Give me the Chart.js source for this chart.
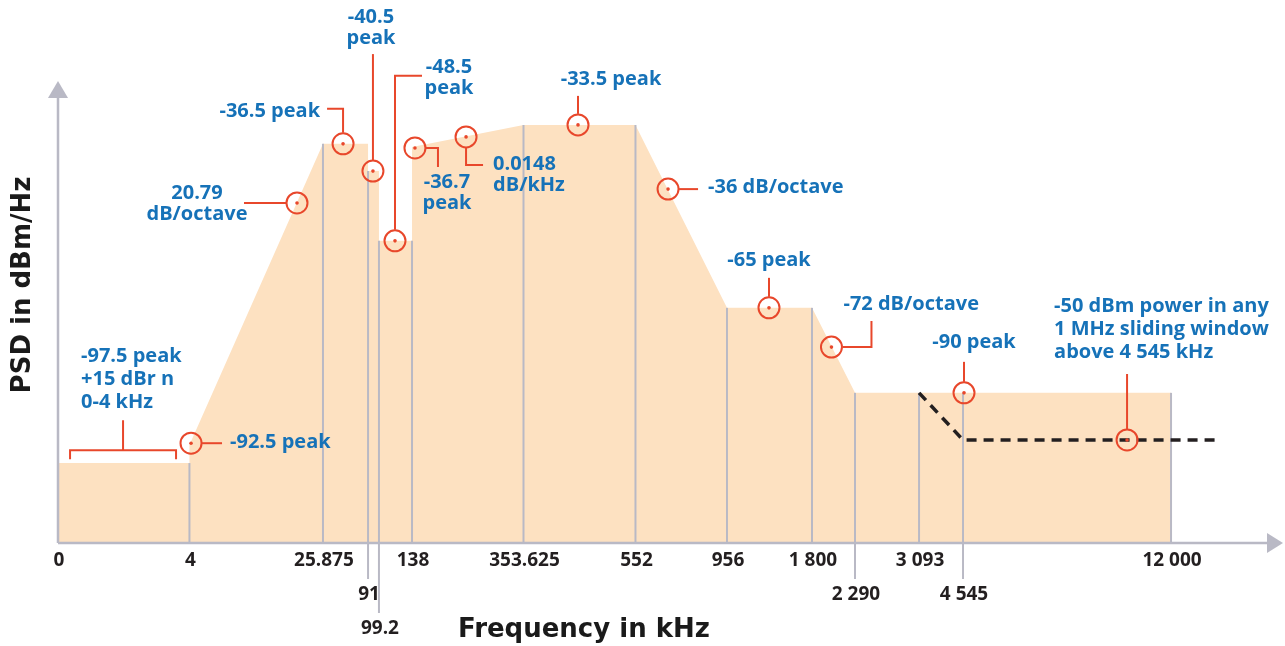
<!DOCTYPE html>
<html>
<head>
<meta charset="utf-8">
<script src="https://cdn.jsdelivr.net/npm/chart.js@4"></script>
<style>
  body { margin: 0; background: #fff; }
  canvas { display: block; }
</style>
</head>
<body>
<canvas id="psdChart" width="1285" height="646"></canvas>
<script>
// frequency break points (kHz) and where each one sits on the drawn axis (0-100, axis is not to scale)
const freqs = [0, 4, 25.875, 91, 99.2, 138, 353.625, 552, 956, 1800, 2290, 3093, 4545, 12000];
const freqLabels = ["0", "4", "25.875", "91", "99.2", "138", "353.625", "552", "956", "1 800", "2 290", "3 093", "4 545", "12 000"];
const axisPos = [0, 10.73, 21.63, 25.31, 26.2, 28.9, 38.0, 47.14, 54.61, 61.55, 65.06, 70.29, 73.88, 90.86];
const labelRow = [0, 0, 0, 1, 2, 0, 0, 0, 0, 0, 1, 0, 1, 0];

// PSD mask outline, relative level on a schematic y axis (0-100)
const maskFreq = [0, 4, 4, 25.875, 91, 91, 99.2, 99.2, 138, 138, 353.625, 552, 956, 1800, 2290, 12000];
const maskLevel = [17.3, 17.3, 21.2, 86.4, 86.4, 80.5, 80.5, 65.4, 65.4, 85.7, 90.5, 90.5, 50.9, 50.9, 32.5, 32.5];

// -50 dBm / 1 MHz dashed limit
const limitFreq = [3093, 4545];
const limitLevel = [32.5, 22.3, 22.3];
const limitEndPos = 94.6;

const FILL = "#fde1c1";
const GREY = "#b9b9c5";
const RED = "#e8472b";
const BLUE = "#1672b8";
const INK = "#231f20";

function posOf(f) {
  return axisPos[freqs.indexOf(f)];
}

// lowest mask level touching a break point (so the divider stops at the lower edge)
function levelAt(f) {
  const hits = [];
  maskFreq.forEach((m, i) => { if (m === f) hits.push(maskLevel[i]); });
  if (hits.length) return Math.min(...hits);
  for (let i = 1; i < maskFreq.length; i++) {
    if (maskFreq[i - 1] < f && f < maskFreq[i]) {
      const a = posOf(maskFreq[i - 1]), b = posOf(maskFreq[i]);
      const t = (posOf(f) - a) / (b - a);
      return maskLevel[i - 1] + t * (maskLevel[i] - maskLevel[i - 1]);
    }
  }
  return 0;
}

// callouts: anchor on the mask (axis units), leader path and text offsets in px
const callouts = [
  { x: 10.86, y: 21.6, path: [[11, 0], [31, 0]], tx: 39, ty: -1, align: "left", text: ["-92.5 peak"] },
  { x: 19.51, y: 73.6, path: [[-11, 0], [-53, 0]], tx: -100, ty: -10, align: "center", text: ["20.79", "dB/octave"] },
  { x: 23.27, y: 86.4, path: [[0, -11], [0, -35], [-16, -35]], tx: -23, ty: -33, align: "right", text: ["-36.5 peak"] },
  { x: 25.71, y: 80.5, path: [[0, -11], [0, -117]], tx: -2, ty: -154, align: "center", text: ["-40.5", "peak"] },
  { x: 27.51, y: 65.4, path: [[0, -11], [0, -165], [27, -165]], tx: 54, ty: -174, align: "center", text: ["-48.5", "peak"] },
  { x: 29.14, y: 85.5, path: [[11, 0], [23, 0], [23, 19]], tx: 32, ty: 34, align: "center", text: ["-36.7", "peak"] },
  { x: 33.31, y: 87.9, path: [[0, 11], [0, 28], [17, 28]], tx: 27, ty: 27, align: "left", text: ["0.0148", "dB/kHz"] },
  { x: 42.45, y: 90.5, path: [[0, -11], [0, -29]], tx: 33, ty: -46, align: "center", text: ["-33.5 peak"] },
  { x: 49.8, y: 76.6, path: [[11, 0], [30, 0]], tx: 40, ty: -2, align: "left", text: ["-36 dB/octave"] },
  { x: 58.04, y: 50.9, path: [[0, -11], [0, -30]], tx: 0, ty: -48, align: "center", text: ["-65 peak"] },
  { x: 63.14, y: 42.4, path: [[11, 0], [40, 0], [40, -26]], tx: 12, ty: -43, align: "left", text: ["-72 dB/octave"] },
  { x: 73.96, y: 32.5, path: [[0, -11], [0, -31]], tx: 10, ty: -51, align: "center", text: ["-90 peak"] },
  { x: 87.27, y: 22.3, path: [[0, -11], [0, -66]], tx: -73, ty: -134, align: "left", lineH: 23,
    text: ["-50 dBm power in any", "1 MHz sliding window", "above 4 545 kHz"] },
];

// bracket over the 0-4 kHz band
const bracket = { x: 5.31, y: 20.1, tx: -42, ty: -94,
  text: ["-97.5 peak", "+15 dBr n", "0-4 kHz"] };

const psdDecor = {
  id: "psdDecor",
  afterDatasetDraw(chart, args) {
    if (args.index !== 1) return;
    const { ctx, scales: { x, y } } = chart;
    const base = y.getPixelForValue(0);
    ctx.save();
    ctx.strokeStyle = GREY;
    ctx.lineWidth = 2;
    freqs.forEach((f, i) => {
      if (i === 0) return;
      const px = x.getPixelForValue(axisPos[i]);
      ctx.beginPath();
      ctx.moveTo(px, y.getPixelForValue(levelAt(f)));
      ctx.lineTo(px, base + [0, 36, 70][labelRow[i]]);
      ctx.stroke();
    });
    ctx.restore();
  },
  afterDatasetsDraw(chart) {
    const { ctx, chartArea, scales: { x, y } } = chart;
    const x0 = x.getPixelForValue(0);
    const y0 = y.getPixelForValue(0);
    ctx.save();

    // axes with arrow heads
    ctx.strokeStyle = GREY;
    ctx.fillStyle = GREY;
    ctx.lineWidth = 2.5;
    ctx.beginPath();
    ctx.moveTo(x0, y0);
    ctx.lineTo(x0, chartArea.top + 16);
    ctx.moveTo(x0, y0);
    ctx.lineTo(chartArea.right - 14, y0);
    ctx.stroke();
    ctx.beginPath();
    ctx.moveTo(x0, chartArea.top);
    ctx.lineTo(x0 - 10, chartArea.top + 17);
    ctx.lineTo(x0 + 10, chartArea.top + 17);
    ctx.closePath();
    ctx.fill();
    ctx.beginPath();
    ctx.moveTo(chartArea.right, y0);
    ctx.lineTo(chartArea.right - 16, y0 - 10);
    ctx.lineTo(chartArea.right - 16, y0 + 10);
    ctx.closePath();
    ctx.fill();

    // tick labels
    ctx.fillStyle = INK;
    ctx.font = "bold 19px 'Open Sans'";
    ctx.textAlign = "center";
    ctx.textBaseline = "middle";
    freqLabels.forEach((lab, i) => {
      ctx.fillText(lab, x.getPixelForValue(axisPos[i]) + 1, y0 + 18 + labelRow[i] * 34);
    });

    // axis titles
    ctx.font = "bold 26px 'DejaVu Sans'";
    ctx.fillStyle = "#1a1a1a";
    ctx.fillText("Frequency in kHz", 584, 630);
    ctx.save();
    ctx.translate(23, 285);
    ctx.rotate(-Math.PI / 2);
    ctx.fillText("PSD in dBm/Hz", 0, 0);
    ctx.restore();

    // callouts
    ctx.font = "bold 20px 'Open Sans'";
    callouts.forEach(c => {
      const cx = x.getPixelForValue(c.x);
      const cy = y.getPixelForValue(c.y);
      ctx.strokeStyle = RED;
      ctx.fillStyle = RED;
      ctx.lineWidth = 2;
      ctx.beginPath();
      ctx.arc(cx, cy, 10.5, 0, Math.PI * 2);
      ctx.stroke();
      ctx.beginPath();
      ctx.arc(cx, cy, 1.8, 0, Math.PI * 2);
      ctx.fill();
      ctx.beginPath();
      c.path.forEach(([dx, dy], k) => {
        if (k === 0) ctx.moveTo(cx + dx, cy + dy);
        else ctx.lineTo(cx + dx, cy + dy);
      });
      ctx.stroke();
      ctx.fillStyle = BLUE;
      ctx.textAlign = c.align;
      const lh = c.lineH || 21;
      c.text.forEach((t, k) => ctx.fillText(t, cx + c.tx, cy + c.ty + k * lh));
    });

    // 0-4 kHz bracket
    const bx = x.getPixelForValue(bracket.x);
    const by = y.getPixelForValue(bracket.y);
    ctx.strokeStyle = RED;
    ctx.lineWidth = 2;
    ctx.beginPath();
    ctx.moveTo(bx, by);
    ctx.lineTo(bx, by - 30);
    ctx.moveTo(bx - 53, by + 9);
    ctx.lineTo(bx - 53, by);
    ctx.lineTo(bx + 53, by);
    ctx.lineTo(bx + 53, by + 9);
    ctx.stroke();
    ctx.fillStyle = BLUE;
    ctx.textAlign = "left";
    bracket.text.forEach((t, k) => ctx.fillText(t, bx + bracket.tx, by + bracket.ty + k * 23));

    ctx.restore();
  }
};

const limitPoints = limitFreq.map(f => posOf(f)).concat([limitEndPos])
  .map((p, i) => ({ x: p, y: limitLevel[i] }));
const maskPoints = maskFreq.map((f, i) => ({ x: posOf(f), y: maskLevel[i] }));

new Chart(document.getElementById("psdChart"), {
  type: "line",
  data: {
    datasets: [
      {
        label: "-50 dBm / MHz",
        data: limitPoints,
        borderColor: INK,
        borderWidth: 3.5,
        borderDash: [10, 7],
        fill: false,
        pointRadius: 0,
        tension: 0,
      },
      {
        label: "PSD mask",
        data: maskPoints,
        borderWidth: 0,
        borderColor: FILL,
        backgroundColor: FILL,
        fill: "origin",
        pointRadius: 0,
        tension: 0,
      },
    ],
  },
  options: {
    responsive: false,
    animation: false,
    devicePixelRatio: 1,
    layout: { padding: { left: 58, right: 2, top: 81, bottom: 103 } },
    scales: {
      x: { type: "linear", min: 0, max: 100, display: false },
      y: { min: 0, max: 100, display: false },
    },
    plugins: {
      legend: { display: false },
      tooltip: { enabled: false },
    },
  },
  plugins: [psdDecor],
});
</script>
</body>
</html>
